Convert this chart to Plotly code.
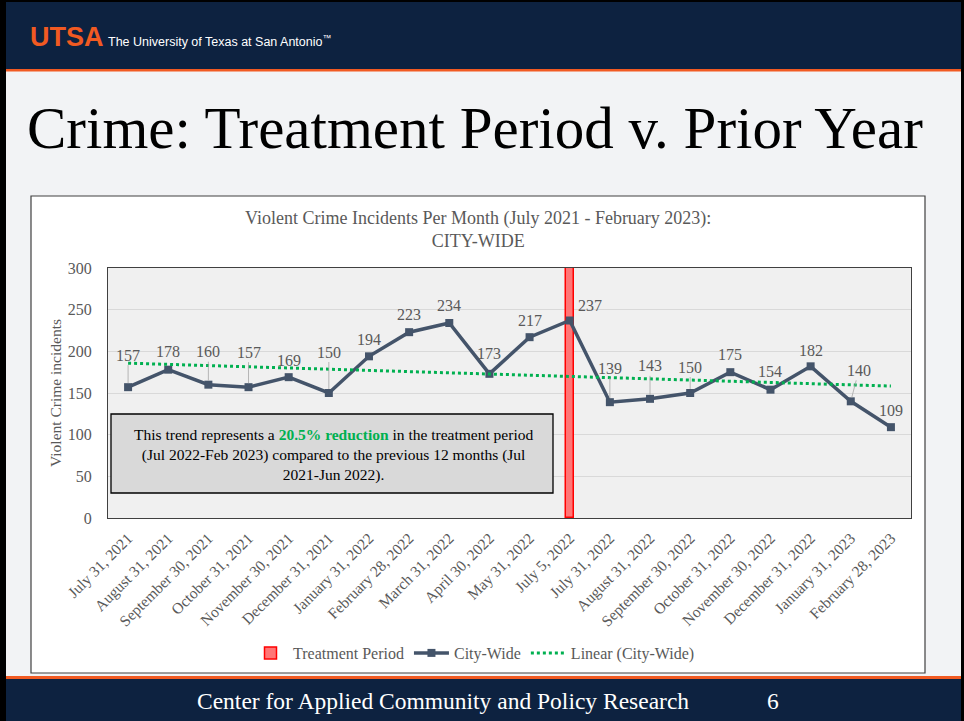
import numpy as np
import plotly.graph_objects as go

# ---------------- data ----------------
categories = [
    "July 31, 2021", "August 31, 2021", "September 30, 2021", "October 31, 2021",
    "November 30, 2021", "December 31, 2021", "January 31, 2022", "February 28, 2022",
    "March 31, 2022", "April 30, 2022", "May 31, 2022", "July 5, 2022",
    "July 31, 2022", "August 31, 2022", "September 30, 2022", "October 31, 2022",
    "November 30, 2022", "December 31, 2022", "January 31, 2023", "February 28, 2023",
]
city_wide = [157, 178, 160, 157, 169, 150, 194, 223, 234, 173, 217, 237,
             139, 143, 150, 175, 154, 182, 140, 109]
treatment_category = ["July 5, 2022"]
treatment_height = [300]
y_ticks = [0, 50, 100, 150, 200, 250, 300]

# label offsets (pixels) for data labels, styling only
label_dx = [0, 0, 0, 0, 0, 0, 0, 0, 0, 0, 0, 20, 0, 0, 0, 0, 0, 0, 8, 0]
label_dy = [-32, -18, -33, -35, -17, -41, -17, -18, -18, -20, -17, -15,
            -34, -33, -26, -18, -18, -16, -31, -17]

# ---------------- geometry ----------------
W, H = 964, 721
L, R, T, B = 108, 53, 268, 203
PW, PH = W - L - R, H - T - B


def px(x):
    return (x - L) / PW


def py(y):
    return (H - B - y) / PH


SERIF = "Liberation Serif, Times New Roman, serif"
SANS = "Liberation Sans, Arial, sans-serif"
GRAY = "#595959"
NAVY = "#0d2240"
ORANGE = "#f15a22"

# linear trend (least squares fit of city-wide values)
idx = np.arange(len(city_wide))
slope, intercept = np.polyfit(idx, city_wide, 1)
trend = intercept + slope * idx

fig = go.Figure()
fig.add_trace(go.Bar(
    x=treatment_category, y=treatment_height, name="Treatment Period",
    width=0.2, marker=dict(color="#ff7676", line=dict(color="#ff0000", width=1.5)),
))
fig.add_trace(go.Scatter(
    x=categories, y=city_wide, name="City-Wide", mode="lines+markers",
    line=dict(color="#44546a", width=3.5),
    marker=dict(symbol="square", size=8, color="#44546a"),
))
fig.add_trace(go.Scatter(
    x=categories, y=trend, name="Linear (City-Wide)", mode="lines",
    line=dict(color="#00b050", width=3, dash="dot"),
))

shapes = []
# outer black frame + slide background
shapes.append(dict(type="rect", xref="paper", yref="paper", layer="below",
                   x0=px(0), x1=px(W), y0=py(H), y1=py(0),
                   fillcolor="#000000", line=dict(width=0)))
shapes.append(dict(type="rect", xref="paper", yref="paper", layer="below",
                   x0=px(6), x1=px(961), y0=py(H), y1=py(2),
                   fillcolor="#f2f3f5", line=dict(width=0)))
# header
shapes.append(dict(type="rect", xref="paper", yref="paper", layer="below",
                   x0=px(6), x1=px(961), y0=py(69), y1=py(2),
                   fillcolor=NAVY, line=dict(width=0)))
shapes.append(dict(type="rect", xref="paper", yref="paper", layer="below",
                   x0=px(6), x1=px(961), y0=py(71.5), y1=py(69),
                   fillcolor=ORANGE, line=dict(width=0)))
# footer
shapes.append(dict(type="rect", xref="paper", yref="paper", layer="below",
                   x0=px(6), x1=px(961), y0=py(679), y1=py(676),
                   fillcolor=ORANGE, line=dict(width=0)))
shapes.append(dict(type="rect", xref="paper", yref="paper", layer="below",
                   x0=px(6), x1=px(961), y0=py(H), y1=py(679),
                   fillcolor=NAVY, line=dict(width=0)))
# chart box
shapes.append(dict(type="rect", xref="paper", yref="paper", layer="below",
                   x0=px(31), x1=px(925), y0=py(673), y1=py(196),
                   fillcolor="#ffffff", line=dict(color="#404040", width=1.2)))
# plot area background
shapes.append(dict(type="rect", xref="paper", yref="paper", layer="below",
                   x0=0, x1=1, y0=0, y1=1,
                   fillcolor="#f0f0f0", line=dict(width=0)))
# text box
shapes.append(dict(type="rect", xref="paper", yref="paper", layer="above",
                   x0=px(111), x1=px(553), y0=py(493), y1=py(414),
                   fillcolor="#d9d9d9", line=dict(color="#000000", width=1.3)))

annotations = []
# header text
annotations.append(dict(xref="paper", yref="paper", x=px(28), y=py(37),
                        xanchor="left", yanchor="middle", showarrow=False,
                        text="<b>UTSA</b>", font=dict(family=SANS, size=27, color=ORANGE)))
annotations.append(dict(xref="paper", yref="paper", x=px(106), y=py(41),
                        xanchor="left", yanchor="middle", showarrow=False,
                        text="The University of Texas at San Antonio<sup>™</sup>",
                        font=dict(family=SANS, size=12.5, color="#ffffff")))
# slide title
annotations.append(dict(xref="paper", yref="paper", x=px(475), y=py(128),
                        xanchor="center", yanchor="middle", showarrow=False,
                        text="Crime: Treatment Period v. Prior Year",
                        font=dict(family=SERIF, size=59, color="#000000")))
# chart title
annotations.append(dict(xref="paper", yref="paper", x=px(478), y=py(229),
                        xanchor="center", yanchor="middle", showarrow=False,
                        text="Violent Crime Incidents Per Month (July 2021 - February 2023):<br>CITY-WIDE",
                        font=dict(family=SERIF, size=18, color=GRAY)))
# text box content
annotations.append(dict(xref="paper", yref="paper", x=px(333), y=py(455),
                        xanchor="center", yanchor="middle", showarrow=False, align="center",
                        text=("This trend represents a <b><span style='color:#00b050'>20.5% reduction</span></b> in the treatment period"
                              "<br>(Jul 2022-Feb 2023) compared to the previous 12 months (Jul"
                              "<br>2021-Jun 2022)."),
                        font=dict(family=SERIF, size=15.5, color="#000000")))
# footer text
annotations.append(dict(xref="paper", yref="paper", x=px(443), y=py(701),
                        xanchor="center", yanchor="middle", showarrow=False,
                        text="Center for Applied Community and Policy Research",
                        font=dict(family=SERIF, size=23.5, color="#ffffff")))
annotations.append(dict(xref="paper", yref="paper", x=px(773), y=py(701),
                        xanchor="center", yanchor="middle", showarrow=False,
                        text="6", font=dict(family=SERIF, size=23.5, color="#ffffff")))
# data labels
for i, (c, v) in enumerate(zip(categories, city_wide)):
    long_leader = abs(label_dy[i]) > 25
    annotations.append(dict(
        x=c, y=v, xref="x", yref="y", text=str(v),
        ax=label_dx[i], ay=label_dy[i],
        showarrow=True, arrowhead=0, arrowwidth=0.8,
        arrowcolor="#a6a6a6" if long_leader else "rgba(0,0,0,0)",
        standoff=4, startstandoff=0,
        font=dict(family=SERIF, size=16, color=GRAY),
    ))

fig.update_layout(
    width=W, height=H, autosize=False,
    margin=dict(l=L, r=R, t=T, b=B, pad=0),
    paper_bgcolor="#ffffff", plot_bgcolor="rgba(0,0,0,0)",
    shapes=shapes, annotations=annotations,
    showlegend=True,
    legend=dict(orientation="h", x=px(474), y=py(653), xanchor="center", yanchor="middle",
                font=dict(family=SERIF, size=16, color=GRAY), bgcolor="rgba(0,0,0,0)",
                traceorder="normal", itemwidth=35),
    xaxis=dict(type="category", categoryorder="array", categoryarray=categories,
               range=[-0.5, len(categories) - 0.5], tickangle=-45,
               tickfont=dict(family=SERIF, size=15.5, color=GRAY),
               showgrid=False, showline=True, linecolor="#404040", linewidth=1.2, mirror=True,
               ticks="", ticklabelstandoff=4),
    yaxis=dict(range=[0, 300], tickvals=y_ticks, showgrid=True, gridcolor="#d9d9d9",
               gridwidth=1, zeroline=False,
               tickfont=dict(family=SERIF, size=16, color=GRAY),
               showline=True, linecolor="#404040", linewidth=1.2, mirror=True,
               ticks="", ticklabelstandoff=12,
               title=dict(text="Violent Crime incidents", standoff=2,
                          font=dict(family=SERIF, size=15.5, color=GRAY))),
    bargap=0,
)

fig.write_html("out.html", config={"displayModeBar": False},
               post_script="document.body.style.margin='0';document.body.style.overflow='hidden';")
